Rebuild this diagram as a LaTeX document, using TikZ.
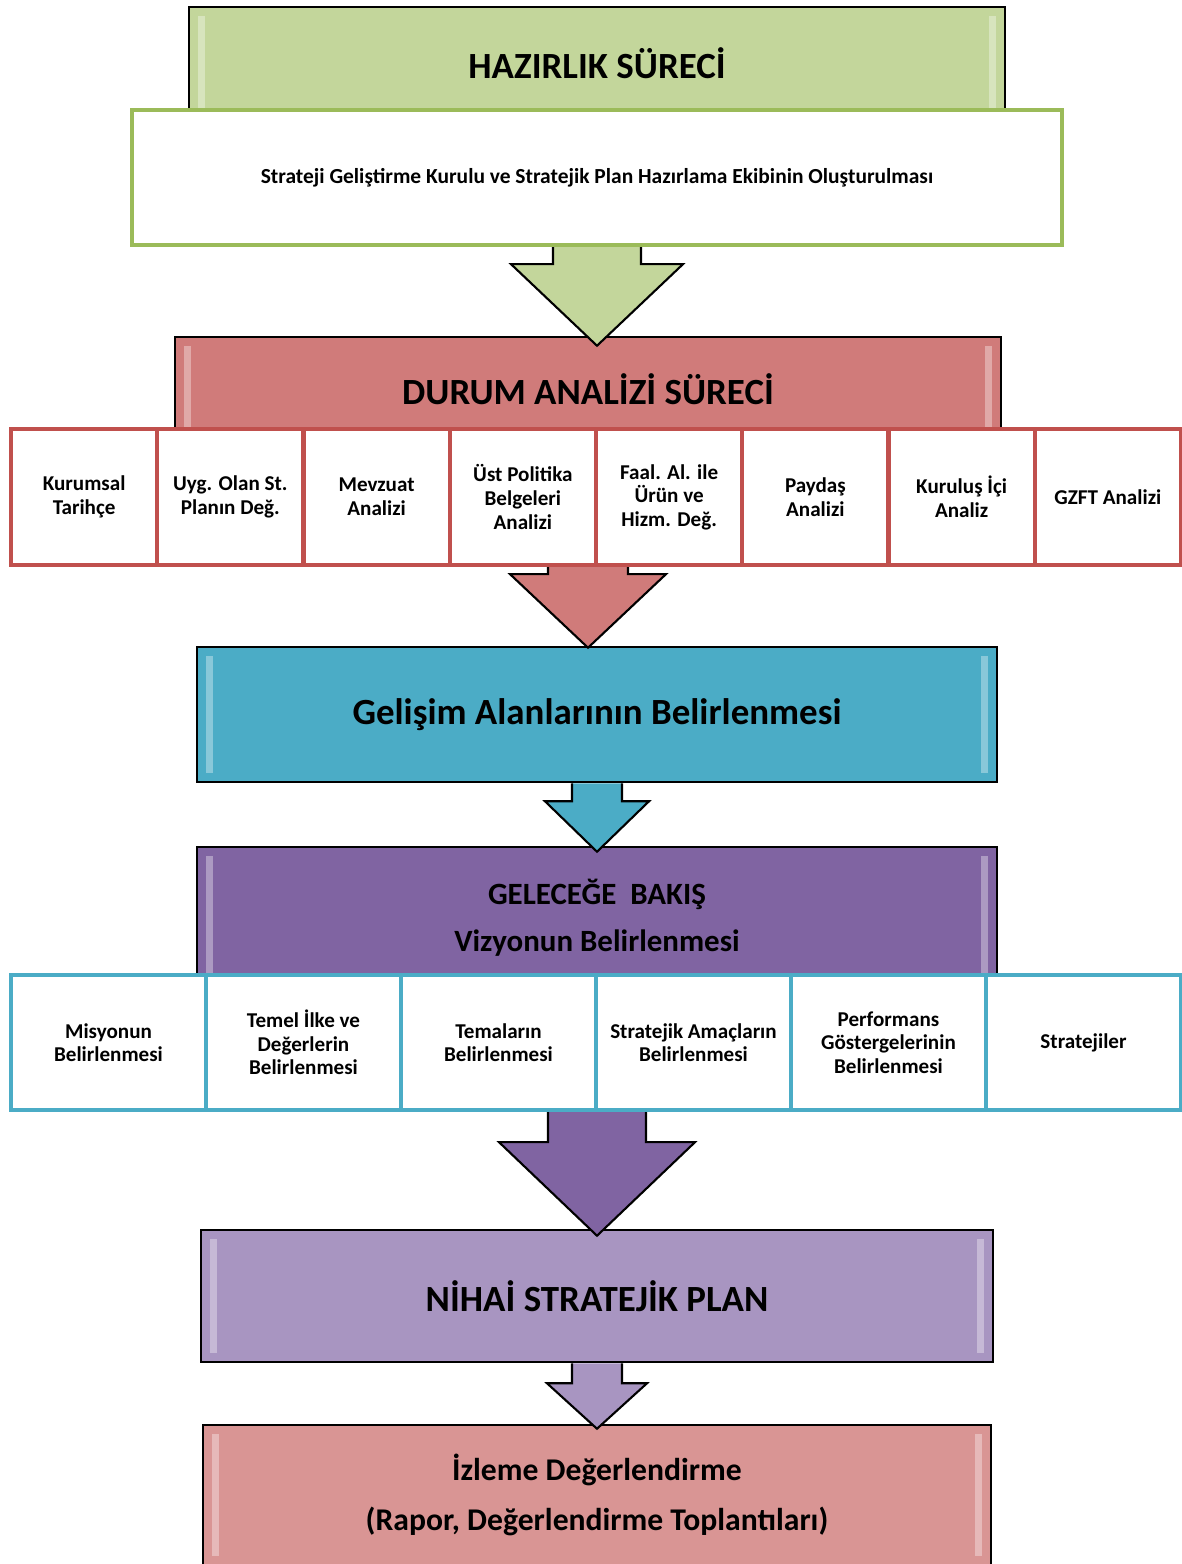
\documentclass[tikz,border=0pt]{standalone}
\usepackage{fontspec}
\setmainfont{Carlito}
\usetikzlibrary{calc}

\definecolor{hgreen}{HTML}{C3D69B}
\definecolor{hgreenline}{HTML}{9BBB59}
\definecolor{dred}{HTML}{D07B7A}
\definecolor{dredline}{HTML}{C0504D}
\definecolor{gblue}{HTML}{4BACC6}
\definecolor{gpurple}{HTML}{8064A2}
\definecolor{nlilac}{HTML}{A895C1}
\definecolor{ipink}{HTML}{D99594}

\tikzset{
  bevel/.style={path picture={
    \fill[white,opacity=.35] ([xshift=2.5pt,yshift=-2.5pt]path picture bounding box.north west) rectangle ([xshift=4.5pt,yshift=2.5pt]path picture bounding box.south west);
    \fill[white,opacity=.35] ([xshift=-2.5pt,yshift=-2.5pt]path picture bounding box.north east) rectangle ([xshift=-4.5pt,yshift=2.5pt]path picture bounding box.south east);
  }},
  stage/.style={draw=black, line width=0.7pt, bevel, inner sep=0pt, align=center,
    font=\fontsize{10.5}{12}\selectfont\bfseries},
  cell/.style={draw=#1, fill=white, line width=1.2pt, inner sep=1pt, align=center,
    font=\fontsize{6}{6.7}\selectfont\bfseries},
  blockarrow/.style={fill=#1, draw=black, line width=0.6pt, line join=miter},
}

\begin{document}
\begin{tikzpicture}[x=0.01cm, y=-0.01cm]
\useasboundingbox (0,0) rectangle (1181,1564);

% Hazirlik sureci
\node[stage, fill=hgreen, minimum width=8.16cm, minimum height=1.12cm] (hazirlik) at (597,63) {HAZIRLIK SÜRECİ};
\node[draw=hgreenline, fill=white, line width=1.2pt, minimum width=9.30cm, minimum height=1.35cm,
  font=\fontsize{6.1}{7}\selectfont\bfseries] (kurul) at (597,177.5)
  {Strateji Geliştirme Kurulu ve Stratejik Plan Hazırlama Ekibinin Oluşturulması};

% Durum analizi sureci
\node[stage, fill=dred, minimum width=8.26cm, minimum height=1.04cm] (durum) at (588,389) {DURUM ANALİZİ SÜRECİ};
\foreach \t [count=\i] in {{Kurumsal\\Tarihçe}, {Uyg. Olan St.\\Planın Değ.}, {Mevzuat\\Analizi},
    {Üst Politika\\Belgeleri\\Analizi}, {Faal. Al. ile\\Ürün ve\\Hizm. Değ.}, {Paydaş\\Analizi},
    {Kuruluş İçi\\Analiz}, {GZFT Analizi}}
  \node[cell=dredline, minimum width=1.4625cm, minimum height=1.36cm] (d\i) at ({11+146.25*(\i-0.5)},497) {\t};

% Green arrow
\filldraw[blockarrow=hgreen] ($(kurul.south)+(-44,0)$) -- ++(0,17) -- ++(-42,0)
  -- ($(kurul.south |- durum.north)+(0,10)$) -- ($(kurul.south)+(86,17)$) -- ++(-42,0) -- ++(0,-17);

% Gelisim alanlari
\node[stage, fill=gblue, minimum width=8.00cm, minimum height=1.35cm] (gelisim) at (597,714.5) {Gelişim Alanlarının Belirlenmesi};

% Red arrow
\filldraw[blockarrow=dred] ($(durum.center |- d1.south)+(-40,0)$) -- ++(0,7) -- ++(-38,0)
  -- ($(durum.center |- gelisim.north)+(0,2)$) -- ($(durum.center |- d1.south)+(78,7)$) -- ++(-38,0) -- ++(0,-7);

% Gelecege bakis
\node[stage, fill=gpurple, minimum width=8.00cm, minimum height=1.42cm,
  font=\fontsize{8.8}{13.4}\selectfont\bfseries] (gelecek) at (597,918) {GELECEĞE~~BAKIŞ\\Vizyonun Belirlenmesi};
\foreach \t [count=\i] in {{Misyonun\\Belirlenmesi}, {Temel İlke ve\\Değerlerin\\Belirlenmesi}, {Temaların\\Belirlenmesi},
    {Stratejik Amaçların\\Belirlenmesi}, {Performans\\Göstergelerinin\\Belirlenmesi}, {Stratejiler}}
  \node[cell=gblue, minimum width=1.95cm, minimum height=1.35cm] (b\i) at ({11+195*(\i-0.5)},1042.5) {\t};

% Blue arrow
\filldraw[blockarrow=gblue] ($(gelisim.south)+(-25,0)$) -- ++(0,18) -- ++(-27,0)
  -- ($(gelecek.north)+(0,6)$) -- ($(gelisim.south)+(52,18)$) -- ++(-27,0) -- ++(0,-18);

% Nihai plan
\node[stage, fill=nlilac, minimum width=7.92cm, minimum height=1.32cm] (nihai) at (597,1296) {NİHAİ STRATEJİK PLAN};

% Purple arrow
\filldraw[blockarrow=gpurple] ($(gelecek.center |- b1.south)+(-49,0)$) -- ++(0,30) -- ++(-49,0)
  -- ($(nihai.north)+(0,7)$) -- ($(gelecek.center |- b1.south)+(98,30)$) -- ++(-49,0) -- ++(0,-30);

% Izleme
\node[stage, fill=ipink, minimum width=7.88cm, minimum height=1.40cm,
  font=\fontsize{9}{14}\selectfont\bfseries] (izleme) at (597,1495) {İzleme Değerlendirme\\(Rapor, Değerlendirme Toplantıları)};

% Lilac arrow
\filldraw[blockarrow=nlilac] ($(nihai.south)+(-25,0)$) -- ++(0,20) -- ++(-25,0)
  -- ($(izleme.north)+(0,5)$) -- ($(nihai.south)+(50,20)$) -- ++(-25,0) -- ++(0,-20);

\end{tikzpicture}
\end{document}
